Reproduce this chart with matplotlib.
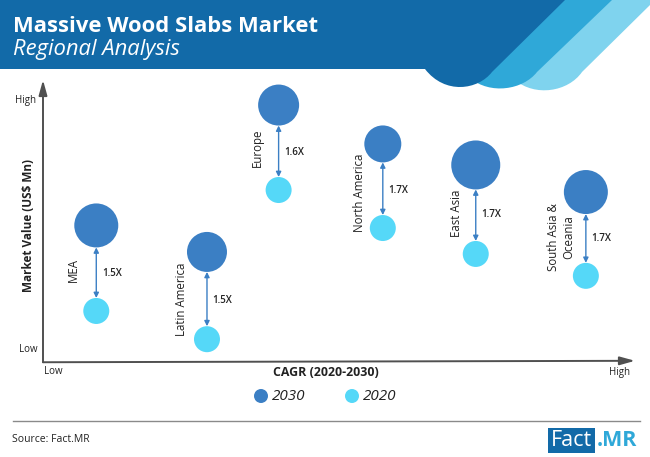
import matplotlib
matplotlib.use('Agg')
import matplotlib.pyplot as plt
from matplotlib.patches import PathPatch, Rectangle
from matplotlib.path import Path

plt.rcParams['font.family'] = ['Open Sans', 'DejaVu Sans']

regions = ['MEA', 'Latin America', 'Europe', 'North America', 'East Asia', 'South Asia &\nOceania']
cagr = [9.0, 27.7, 39.8, 57.4, 73.1, 91.7]
value_2030 = [49.5, 40.3, 91.3, 77.8, 70.5, 61.1]
value_2020 = [19.8, 10.0, 61.8, 48.6, 39.6, 32.0]
size_2030 = [44, 40, 41, 37, 49, 44]
size_2020 = [26, 26, 26, 26, 26, 26]
growth = ['1.5X', '1.5X', '1.6X', '1.7X', '1.7X', '1.7X']

DARK = '#126aa8'
BUB_2030 = '#3b7fc4'
BUB_2020 = '#55d8f8'
W, H = 650, 457

# region label nudges in points, labels do not sit on one common offset
label_nudge = [(-16.5, -1.5), (-18, -3), (-15, 0), (-17, -5), (-14, -3), (-18, -2)]


def to_area(d):
    return (d * 0.72) ** 2


fig = plt.figure(figsize=(6.5, 4.57), dpi=100)

# page layer in pixels
bg = fig.add_axes([0, 0, 1, 1])
bg.set_xlim(0, W)
bg.set_ylim(H, 0)
bg.axis('off')

M = Path.MOVETO
L = Path.LINETO
C = Path.CURVE4
light = [(560, 0), (650, 0), (650, 5), (582, 72), (568, 92), (535, 97), (515, 80), (470, 40), (560, 0)]
mid = [(520, 0), (612, 0), (537, 72), (523, 90), (490, 95), (470, 78), (450, 40), (520, 0)]
dark = [(0, 0), (565, 0), (492, 72), (478, 90), (445, 95), (425, 69), (0, 69), (0, 0)]
bg.add_patch(PathPatch(Path(light, [M, L, L, L, C, C, C, L, L]), fc='#7fd3ee', ec='none'))
bg.add_patch(PathPatch(Path(mid, [M, L, L, C, C, C, L, L]), fc='#2fa8d8', ec='none'))
bg.add_patch(PathPatch(Path(dark, [M, L, L, C, C, C, L, L]), fc=DARK, ec='none'))

bg.text(13, 26, 'Massive Wood Slabs Market', color='white', fontsize=15.8, fontweight='bold', va='center')
bg.text(13, 50, 'Regional Analysis', color='white', fontsize=15.8, style='italic', va='center')

# chart axes
ax = fig.add_axes([43 / W, 1 - 368 / H, 592 / W, 288 / H])
ax.set_xlim(0, 100)
ax.set_ylim(0, 100)
ax.axis('off')
ax.patch.set_alpha(0)

ax.annotate('', xy=(0, 100), xytext=(0, 2), annotation_clip=False,
            arrowprops=dict(arrowstyle='-|>,head_length=0.9,head_width=0.25', color='#505050', lw=1.4, shrinkA=0, shrinkB=0))
ax.annotate('', xy=(100, 2.5), xytext=(0, 2), annotation_clip=False,
            arrowprops=dict(arrowstyle='-|>,head_length=0.9,head_width=0.25', color='#505050', lw=1.4, shrinkA=0, shrinkB=0))

ax.scatter(cagr, value_2030, s=[to_area(d) for d in size_2030], color=BUB_2030, zorder=3, linewidths=0)
ax.scatter(cagr, value_2020, s=[to_area(d) for d in size_2020], color=BUB_2020, zorder=3, linewidths=0)

for i, name in enumerate(regions):
    ax.annotate('', xy=(cagr[i], value_2030[i]), xytext=(cagr[i], value_2020[i]),
                arrowprops=dict(arrowstyle='<|-|>,head_length=0.3,head_width=0.15', color=BUB_2030, lw=1,
                                shrinkA=size_2020[i] * 0.36, shrinkB=size_2030[i] * 0.36), zorder=2)
    mid_y = (value_2030[i] + value_2020[i]) / 2
    ax.annotate(growth[i], (cagr[i], mid_y), xytext=(4, -3.5), textcoords='offset points',
                fontsize=7, fontweight='semibold', color='#222222', va='center')
    ax.annotate(name, (cagr[i], mid_y), xytext=label_nudge[i], textcoords='offset points',
                rotation=90, fontsize=8.3, color='#222222', va='center', ha='center', multialignment='center')

# axis labels
bg.text(15, 101, 'High', fontsize=7, color='#222222', va='center')
bg.text(19, 349, 'Low', fontsize=7, color='#222222', va='center')
bg.text(44, 372, 'Low', fontsize=7, color='#222222', va='center')
bg.text(609, 372, 'High', fontsize=7, color='#222222', va='center')
bg.text(326, 373, 'CAGR (2020-2030)', fontsize=8.9, fontweight='bold', color='#222222', ha='center', va='center')
bg.text(28, 225, 'Market Value (US$ Mn)', fontsize=8.5, fontweight='bold', color='#222222',
        rotation=90, ha='center', va='center')

# legend
bg.scatter([261, 352], [396, 396], s=to_area(14), color=[BUB_2030, BUB_2020], linewidths=0)
bg.text(272, 396, '2030', fontsize=11, style='italic', color='#222222', va='center')
bg.text(363, 396, '2020', fontsize=11, style='italic', color='#222222', va='center')

# footer
bg.plot([13, 640], [421, 421], color='#8a8a8a', lw=1)
bg.text(12, 439, 'Source: Fact.MR', fontsize=7.5, color='#222222', va='center')
bg.add_patch(Rectangle((548, 428), 47, 25, fc=DARK, ec='none'))
bg.text(571, 441, 'Fact', color='white', fontsize=15.5, ha='center', va='center')
bg.text(597, 441, '.MR', color='#2fa8d8', fontsize=15.5, fontweight='bold', va='center')

bg.set_xlim(0, W)
bg.set_ylim(H, 0)
fig.savefig('out.png', dpi=100)
